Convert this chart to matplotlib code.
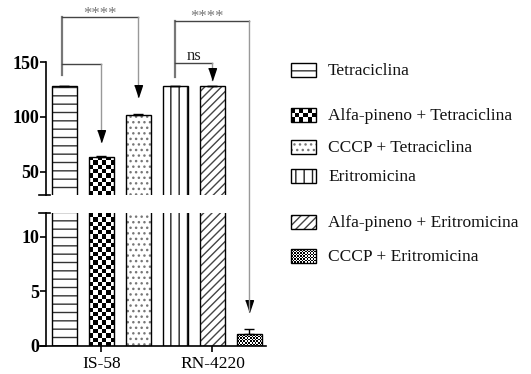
import numpy as np
import matplotlib

matplotlib.use("Agg")
import matplotlib.pyplot as plt
from matplotlib.patches import Rectangle, ConnectionPatch

plt.rcParams["font.family"] = ["Liberation Serif", "DejaVu Serif"]
plt.rcParams["hatch.linewidth"] = 1.0

groups = ["IS-58", "RN-4220"]
group_ticks = [1, 4]
treatments = [
    "Tetraciclina",
    "Alfa-pineno + Tetraciclina",
    "CCCP + Tetraciclina",
    "Eritromicina",
    "Alfa-pineno + Eritromicina",
    "CCCP + Eritromicina",
]
values = [128.0, 64.0, 102.0, 128.0, 128.0, 1.1]
errors = [0.5, 0.4, 0.5, 0.5, 0.5, 0.45]

# fill style per treatment: (hatch, hatch colour) or ("checker", cell size in px)
fills = [
    ("hatch", "--", "#333333"),
    ("checker", 4.3, None),
    ("hatch", "...", "#777777"),
    ("hatch", "||", "#222222"),
    ("hatch", "////", "#444444"),
    ("checker", 1.6, None),
]

top_range = (29, 150)
bot_range = (0, 12.2)
bar_w = 0.68
x = np.arange(len(values))

fig = plt.figure(figsize=(5.31, 3.74), dpi=100)
ax_top = fig.add_axes([0.0734, 0.4786, 0.4275, 0.3556])
ax_bot = fig.add_axes([0.0734, 0.0749, 0.4275, 0.3556])
ax_leg = fig.add_axes([0, 0, 1, 1], zorder=-1)
ax_leg.set_xlim(0, 531)
ax_leg.set_ylim(374, 0)
ax_leg.axis("off")

for ax, yr in ((ax_top, top_range), (ax_bot, bot_range)):
    ax.set_xlim(-0.689, 5.446)
    ax.set_ylim(*yr)
    ax.set_autoscale_on(False)
    for s in ("top", "right"):
        ax.spines[s].set_visible(False)
    ax.spines["left"].set_position(("data", -0.5))
    ax.spines["left"].set_bounds(*yr)
    ax.spines["left"].set_linewidth(1.2)
    ax.spines["bottom"].set_linewidth(1.2)
    ax.tick_params(axis="y", direction="out", length=4, width=1.2, pad=1,
                   labelsize=13)
    # short cap marks where the axis is broken
    ax.plot([-0.68, -0.38], [yr[0] if ax is ax_top else yr[1]] * 2,
            color="black", lw=1.2, clip_on=False)

ax_top.spines["bottom"].set_visible(False)
ax_top.tick_params(axis="x", bottom=False, labelbottom=False)
ax_top.set_yticks([50, 100, 150])
ax_bot.set_yticks([0, 5, 10])
ax_bot.set_xticks(group_ticks, groups)
ax_bot.tick_params(axis="x", direction="out", length=4, width=1.2, labelsize=12.5, pad=3)
for ax in (ax_top, ax_bot):
    for lab in ax.get_yticklabels():
        lab.set_fontweight("bold")


def checker_image(ax, x0, x1, y0, y1, cell_px, clip):
    p = ax.transData.transform([(x0, y0), (x1, y1)])
    wpx, hpx = abs(p[1, 0] - p[0, 0]), abs(p[1, 1] - p[0, 1])
    nx = max(1, int(round(wpx / cell_px)))
    ny = max(1, int(np.ceil(hpx / cell_px)))
    cy = (y1 - y0) * cell_px / hpx if hpx else 0
    board = np.indices((ny, nx)).sum(axis=0) % 2
    im = ax.imshow(board, cmap="gray", vmin=0, vmax=1, interpolation="nearest",
                   aspect="auto", extent=[x0, x1, y1 - ny * cy, y1], zorder=1.5)
    im.set_clip_path(clip)


for ax, (lo, hi) in ((ax_top, top_range), (ax_bot, bot_range)):
    for xi, v, f in zip(x, values, fills):
        if f[0] == "hatch":
            ax.bar(xi, v, bar_w, color="white", edgecolor=f[2], linewidth=0,
                   hatch=f[1], zorder=1)
            outline = ax.bar(xi, v, bar_w, fill=False, edgecolor="black",
                             linewidth=1.0, zorder=2)[0]
        else:
            outline = ax.bar(xi, v, bar_w, fill=False, edgecolor="black",
                             linewidth=1.0, zorder=2)[0]
            top = min(v, hi)
            if top > lo:
                checker_image(ax, xi - bar_w / 2, xi + bar_w / 2, max(lo, 0),
                              top, f[1], outline)
    ax.errorbar(x, values, yerr=[np.zeros(len(errors)), errors], fmt="none",
                ecolor="black", elinewidth=1.0, capsize=3.5, capthick=1.0,
                zorder=3)

# significance brackets
head = [(-4, 12), (4, 12), (0, 0)]
line_kw = dict(color="#444444", lw=1.0, clip_on=False, zorder=4)
drop_kw = dict(color="#999999", lw=1.0, clip_on=False, zorder=4)
side_kw = dict(color="#777777", lw=1.6, clip_on=False, zorder=4)
head_kw = dict(marker=head, ms=17, color="black", ls="none", clip_on=False, zorder=5)
star_kw = dict(ha="center", va="center", color="#777777", fontsize=12)

# Tetraciclina vs CCCP + Tetraciclina
ax_top.plot([-0.07, -0.07], [138.2, 190.9], **side_kw)
ax_top.plot([-0.07, 2.0], [190.9, 190.9], **line_kw)
ax_top.plot([2.0, 2.0], [190.9, 119.0], **drop_kw)
ax_top.plot([2.0], [118.5], **head_kw)
ax_top.text(0.96, 194.0, "****", **star_kw)
# Tetraciclina vs Alfa-pineno + Tetraciclina
ax_top.plot([-0.07, 1.0], [148.2, 148.2], **line_kw)
ax_top.plot([1.0, 1.0], [148.2, 78.0], **drop_kw)
ax_top.plot([1.0], [77.5], **head_kw)

# Eritromicina vs Alfa-pineno + Eritromicina
ax_top.plot([3.0, 3.0], [136.0, 187.5], **side_kw)
ax_top.plot([3.0, 3.98], [148.8, 148.8], **line_kw)
ax_top.plot([3.98, 3.98], [148.8, 134.0], **drop_kw)
ax_top.plot([3.98], [133.6], **head_kw)
ax_top.text(3.49, 155.5, "ns", ha="center", va="center", color="#222222", fontsize=12)
# Eritromicina vs CCCP + Eritromicina
ax_top.plot([3.0, 5.0], [187.5, 187.5], **line_kw)
fig.add_artist(ConnectionPatch((5.0, 187.5), (5.0, 3.2), coordsA=ax_top.transData,
                               coordsB=ax_bot.transData, color="#999999", lw=1.0,
                               zorder=4))
ax_bot.plot([5.0], [3.15], **head_kw)
ax_top.text(3.86, 191.0, "****", **star_kw)

# legend drawn by hand
leg_y = [70, 115, 147, 176, 222, 256]
for label, f, yc in zip(treatments, fills, leg_y):
    rect = Rectangle((291, yc - 7), 25, 14, fill=False, edgecolor="black",
                     linewidth=1.0, zorder=2)
    ax_leg.add_patch(rect)
    if f[0] == "hatch":
        ax_leg.add_patch(Rectangle((291, yc - 7), 25, 14, facecolor="white",
                                   edgecolor=f[2], linewidth=0, hatch=f[1], zorder=1))
    else:
        n = int(round(25 / f[1]))
        m = int(round(14 / f[1]))
        board = np.indices((m, n)).sum(axis=0) % 2
        im = ax_leg.imshow(board, cmap="gray", vmin=0, vmax=1, interpolation="nearest",
                           aspect="auto", extent=[291, 316, yc + 7, yc - 7], zorder=1)
        im.set_clip_path(rect)
    ax_leg.text(328, yc + 1, label, ha="left", va="center", fontsize=12.5, color="#111111")
ax_leg.set_xlim(0, 531)
ax_leg.set_ylim(374, 0)

fig.savefig("out.png", dpi=100)
